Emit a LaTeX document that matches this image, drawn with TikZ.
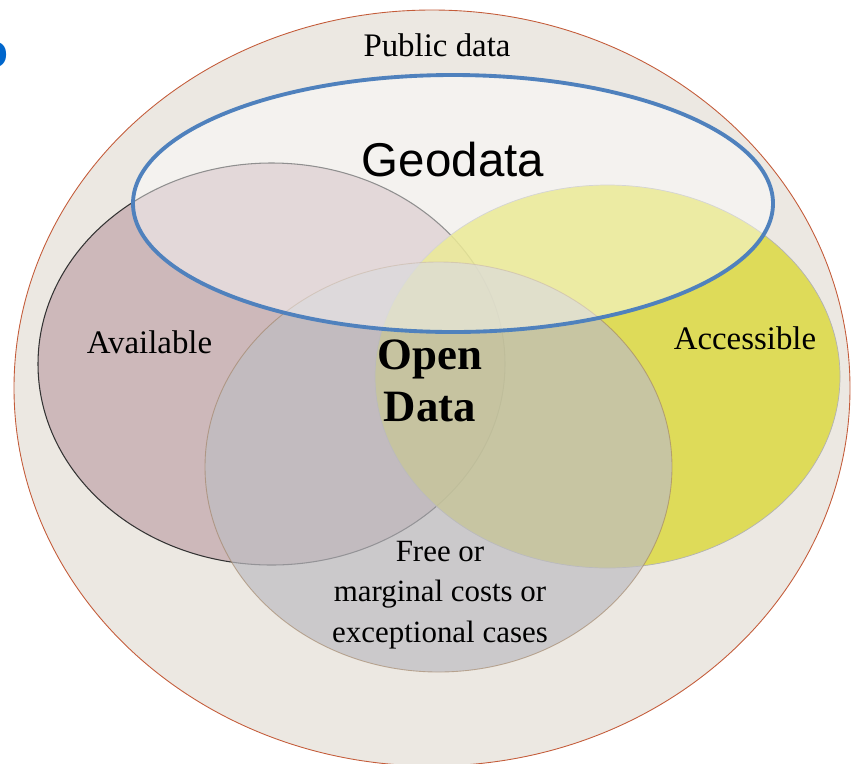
\documentclass[tikz,border=0pt]{standalone}
\usepackage{fontspec}
\setmainfont{Liberation Serif}
\newfontfamily\geofont{Liberation Sans}
\usetikzlibrary{shapes.geometric}
\definecolor{pubfill}{RGB}{236,232,226}
\definecolor{publine}{RGB}{196,92,58}
\definecolor{availfill}{RGB}{205,184,186}
\definecolor{accessfill}{RGB}{220,217,66}
\definecolor{freefill}{RGB}{190,189,194}
\definecolor{geoblue}{RGB}{79,129,189}
\definecolor{titleblue}{RGB}{0,102,204}

\begin{document}
\begin{tikzpicture}
		  \tikzset{
			setlabel/.style={font=\fontsize{18.7}{22}\selectfont,align=center},
		  }
		  \useasboundingbox (0,0) rectangle (17.04,-15.26);
		  %CUT TITLE
		  \node[anchor=east,titleblue,font=\geofont\bfseries\fontsize{27}{30}\selectfont,inner sep=0pt] (ttl) at (0.17,-1.1) {o};
		  %PUBLIC DATA
		  \node[ellipse,fill=pubfill,draw=publine,line width=0.5pt,minimum width=16.72cm,minimum height=15.12cm] (pub) at (8.64,-7.76) {};
		  \node[setlabel] (publbl) at (8.74,-0.9) {Public data};
		  %AVAILABLE
		  \node[ellipse,fill=availfill,draw=black!80,line width=0.6pt,minimum width=9.34cm,minimum height=8.04cm] (avail) at (5.43,-7.28) {};
		  %ACCESSIBLE
		  \node[ellipse,fill=accessfill,fill opacity=0.85,draw=black!30,line width=0.4pt,minimum width=9.3cm,minimum height=7.66cm] (access) at (12.15,-7.53) {};
		  %FREE
		  \node[ellipse,fill=freefill,fill opacity=0.7,draw=brown!50!gray,draw opacity=0.6,line width=0.5pt,minimum width=9.34cm,minimum height=8.2cm] (free) at (8.77,-9.34) {};
		  %GEODATA
		  \node[ellipse,fill=white,fill opacity=0.45,draw=geoblue,line width=2.2pt,minimum width=12.8cm,minimum height=5.14cm] (geo) at (9.06,-4.07) {};
		  %LABELS
		  \node[font=\geofont\fontsize{27}{30}\selectfont] (geolbl) at (9.06,-3.2) {Geodata};
		  \node[setlabel] (availlbl) at (2.99,-6.84) {Available};
		  \node[setlabel] (accesslbl) at (14.9,-6.76) {Accessible};
		  \node[align=center,font=\bfseries\fontsize{25.5}{30}\selectfont] (open) at (8.6,-7.62) {Open\\Data};
		  \node[setlabel,font=\fontsize{17.6}{23}\selectfont] (freelbl) at (8.8,-11.9) {Free or\\marginal costs or\\exceptional cases};
\end{tikzpicture}
\end{document}
